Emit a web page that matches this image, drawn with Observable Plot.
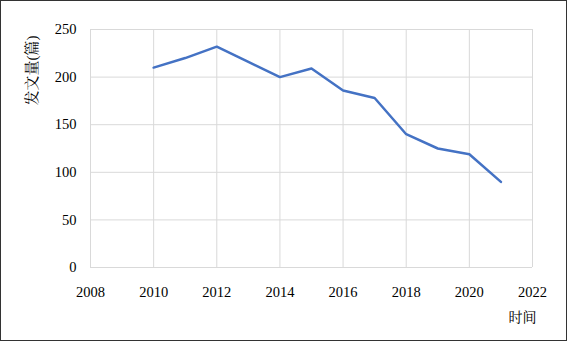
<!DOCTYPE html>
<html><head><meta charset="utf-8">
<script src="https://cdn.jsdelivr.net/npm/d3@7"></script>
<script src="https://cdn.jsdelivr.net/npm/@observablehq/plot@0.6"></script>
<style>
body{margin:0;background:#fff;}
#wrap{position:relative;width:567px;height:341px;}
#border{position:absolute;left:0;top:0;width:567px;height:341px;box-sizing:border-box;border:1.5px solid #333;pointer-events:none;}
</style>
</head><body>
<div id="wrap"><div id="border"></div></div>
<script>
const years = [2010, 2011, 2012, 2013, 2014, 2015, 2016, 2017, 2018, 2019, 2020, 2021];
const counts = [210, 220, 232, 216, 200, 209, 186, 178, 140, 125, 119, 90];
const xTicks = [2008, 2010, 2012, 2014, 2016, 2018, 2020, 2022];
const yTicks = [0, 50, 100, 150, 200, 250];
const yLabel = "发文量(篇)";
const xLabel = "时间";

const data = years.map((y, i) => ({year: y, count: counts[i]}));
const font = "'Liberation Serif', 'Noto Serif CJK SC', serif";

const chart = Plot.plot({
  width: 567, height: 341,
  marginLeft: 90, marginRight: 35, marginTop: 29, marginBottom: 74,
  style: {fontSize: "14.5px", color: "#000", background: "transparent"},
  x: {domain: [2008, 2022]},
  y: {domain: [0, 250]},
  marks: [
    Plot.gridX(xTicks, {stroke: "#d9d9d9", strokeOpacity: 1, strokeWidth: 1}),
    Plot.gridY(yTicks, {stroke: "#d9d9d9", strokeOpacity: 1, strokeWidth: 1}),
    Plot.axisX(xTicks, {tickSize: 0, tickPadding: 19, label: null, tickFormat: d => String(d), fontSize: 14.5}),
    Plot.axisY(yTicks, {tickSize: 0, tickPadding: 14, label: null, fontSize: 14.5}),
    Plot.line(data, {x: "year", y: "count", stroke: "#4472C4", strokeWidth: 2.5}),
    Plot.text([yLabel], {frameAnchor: "top-left", dx: -58, dy: 41, rotate: -90, textAnchor: "middle", lineAnchor: "middle", text: d => d, fontSize: 15, fill: "#000"}),
    Plot.text([xLabel], {frameAnchor: "bottom-right", dx: -10, dy: 50, textAnchor: "middle", lineAnchor: "middle", text: d => d, fontSize: 14, fill: "#000"})
  ]
});
d3.select(chart).attr("font-family", font).style("font-family", font);
d3.select(chart).selectAll("g, text").attr("font-family", null).style("font-family", font);
document.getElementById("wrap").prepend(chart);
</script>
</body></html>
